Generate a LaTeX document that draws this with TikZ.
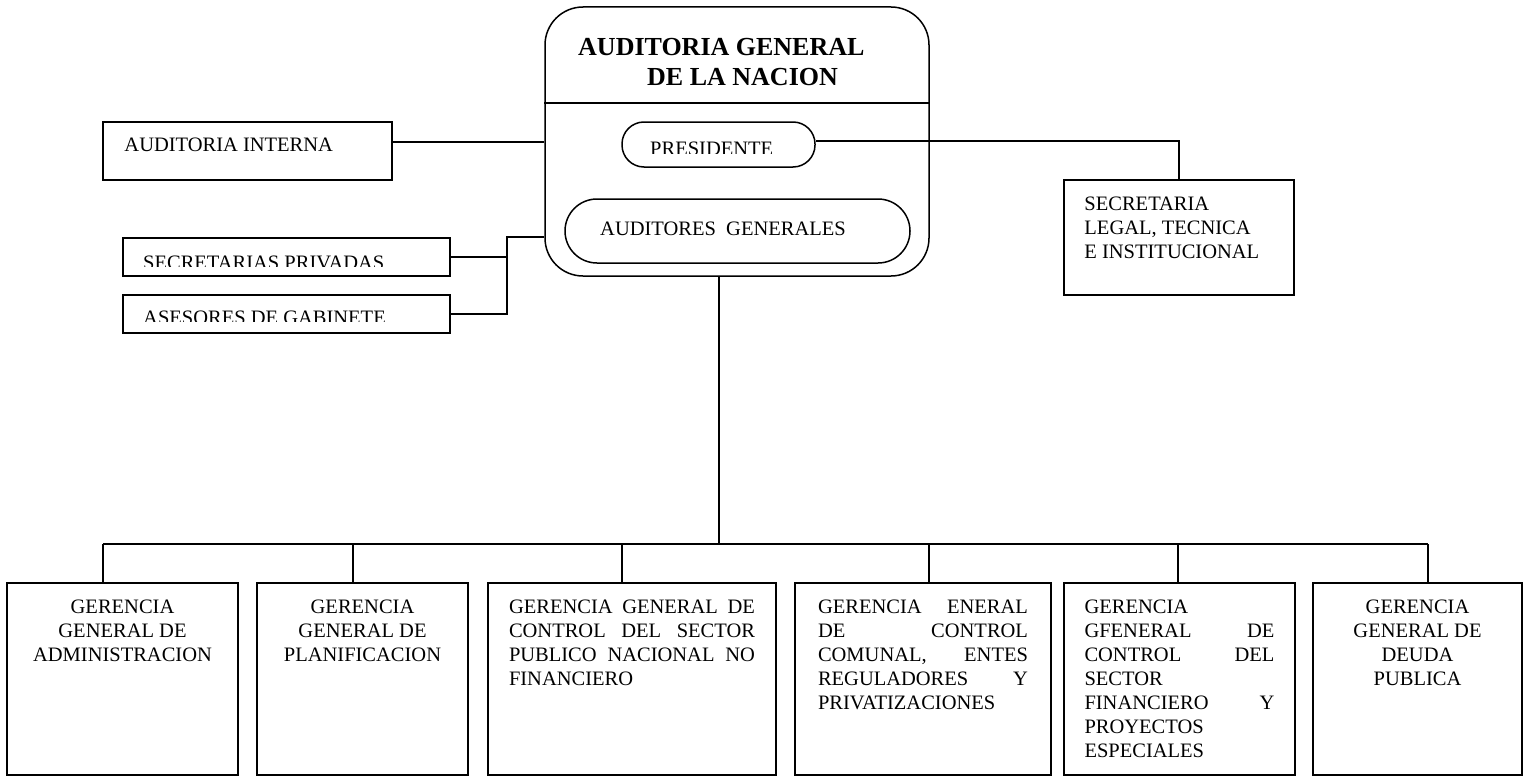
\documentclass[tikz,border=0pt]{standalone}
\usepackage{fontspec}
\setmainfont{Liberation Serif}
\usetikzlibrary{calc}
\usetikzlibrary{fit}

\tikzset{
	orgBox/.style={draw, line width=1.5pt, inner sep=0pt},
	orgText/.style={inner sep=0pt, font=\fontsize{20.5}{24}\selectfont},
	orgLink/.style={line width=1.5pt},
}
\newcommand{\drawOrgBox}[2]{
	\node[orgBox, fit=(#1_L)(#1_R), #2] (#1) {};
}
\newcommand{\drawCutLabel}[4]{
	\begin{scope}
		\clip (#1.north west) rectangle (#1.east |- 0,#2);
		\node[orgText, anchor=north west] (#1_txt) at (#3) {#4};
	\end{scope}
}

\begin{document}
\begin{tikzpicture}[x=1pt, y=-1pt]
	\useasboundingbox (0,0) rectangle (1528,776);

	\coordinate (AGN_L) at (545,7);
	\coordinate (AGN_R) at (929,276);
	\coordinate (PR_L) at (622,122);
	\coordinate (PR_R) at (815,167);
	\coordinate (AUG_L) at (565,199);
	\coordinate (AUG_R) at (910,263);
	\coordinate (AI_L) at (103,122);
	\coordinate (AI_R) at (392,180);
	\coordinate (SP_L) at (123,238);
	\coordinate (SP_R) at (450,276);
	\coordinate (AG_L) at (123,295);
	\coordinate (AG_R) at (450,333);
	\coordinate (SL_L) at (1064,180);
	\coordinate (SL_R) at (1294,295);
	\coordinate (G1_L) at (7,583);
	\coordinate (G1_R) at (238,775);
	\coordinate (G2_L) at (257,583);
	\coordinate (G2_R) at (468,775);
	\coordinate (G3_L) at (488,583);
	\coordinate (G3_R) at (776,775);
	\coordinate (G4_L) at (795,583);
	\coordinate (G4_R) at (1051,775);
	\coordinate (G5_L) at (1064,583);
	\coordinate (G5_R) at (1295,775);
	\coordinate (G6_L) at (1313,583);
	\coordinate (G6_R) at (1522,775);

	\drawOrgBox{AGN}{rounded corners=38pt}
	\drawOrgBox{PR}{rounded corners=22pt}
	\drawOrgBox{AUG}{rounded corners=32pt}
	\foreach \boxName in {AI,SP,AG,SL,G1,G2,G3,G4,G5,G6}
		{\drawOrgBox{\boxName}{}}

	\coordinate (DIV) at (0,103);
	\draw[orgLink] (AGN.west |- DIV) -- (AGN.east |- DIV);
	\node[inner sep=0pt, font=\fontsize{26}{30}\selectfont\bfseries, align=left, anchor=north west] (AGN_txt) at (578,38)
		{AUDITORIA GENERAL\\\hspace*{69pt}DE LA NACION};

	\drawCutLabel{PR}{153}{650,142}{PRESIDENTE}
	\drawCutLabel{SP}{266}{143,256}{SECRETARIAS PRIVADAS}
	\drawCutLabel{AG}{321}{143,311}{ASESORES DE GABINETE}
	\node[orgText, anchor=north west] (AUG_txt) at (600,222) {AUDITORES\ \ GENERALES};
	\node[orgText, anchor=north west] (AI_txt) at ([xshift=22pt, yshift=-16pt]AI.north west) {AUDITORIA INTERNA};
	\node[orgText, align=left, anchor=north west] (SL_txt) at ([xshift=21pt, yshift=-17pt]SL.north west)
		{SECRETARIA\\LEGAL, TECNICA\\E INSTITUCIONAL};

	\node[orgText, align=center, anchor=north] (G1_txt) at ([yshift=-17pt]G1.north)
		{GERENCIA\\GENERAL DE\\ADMINISTRACION};
	\node[orgText, align=center, anchor=north] (G2_txt) at ([yshift=-17pt]G2.north)
		{GERENCIA\\GENERAL DE\\PLANIFICACION};
	\node[orgText, align=left, text width=246pt, anchor=north] (G3_txt) at ([yshift=-17pt]G3.north)
		{GERENCIA\hfill GENERAL\hfill DE\\CONTROL\hfill DEL\hfill SECTOR\\PUBLICO\hfill NACIONAL\hfill NO\\FINANCIERO};
	\node[orgText, align=left, text width=210pt, anchor=north] (G4_txt) at ([yshift=-17pt]G4.north)
		{GERENCIA\hfill ENERAL\\DE\hfill CONTROL\\COMUNAL,\hfill ENTES\\REGULADORES\hfill Y\\PRIVATIZACIONES};
	\node[orgText, align=left, text width=190pt, anchor=north] (G5_txt) at ([yshift=-17pt]G5.north)
		{GERENCIA\\GFENERAL\hfill DE\\CONTROL\hfill DEL\\SECTOR\\FINANCIERO\hfill Y\\PROYECTOS\\ESPECIALES};
	\node[orgText, align=center, anchor=north] (G6_txt) at ([yshift=-17pt]G6.north)
		{GERENCIA\\GENERAL DE\\DEUDA\\PUBLICA};

	\coordinate (AI_out) at ([yshift=9pt]AI.east);
	\draw[orgLink] (AI_out) -- (AI_out -| AGN.west);
	\coordinate (JNT) at (507,237);
	\draw[orgLink] (JNT -| AGN.west) -- (JNT) -- (JNT |- AG.east) -- (AG.east);
	\draw[orgLink] (SP.east) -- (SP.east -| JNT);
	\coordinate (PR_out) at ([yshift=3.5pt]PR.east);
	\draw[orgLink] (PR_out) -- (PR_out -| SL.north) -- (SL.north);

	\coordinate (TRUNK) at (719,276);
	\coordinate (D1) at (103,544);
	\coordinate (D2) at (353,544);
	\coordinate (D3) at (622,544);
	\coordinate (D4) at (929,544);
	\coordinate (D5) at (1178,544);
	\coordinate (D6) at (1428,544);
	\draw[orgLink] (TRUNK) -- (TRUNK |- D1);
	\draw[orgLink] (D1) -- (D6);
	\foreach \i in {1,...,6}
		\draw[orgLink] (D\i) -- (D\i |- G\i.north);
\end{tikzpicture}
\end{document}
